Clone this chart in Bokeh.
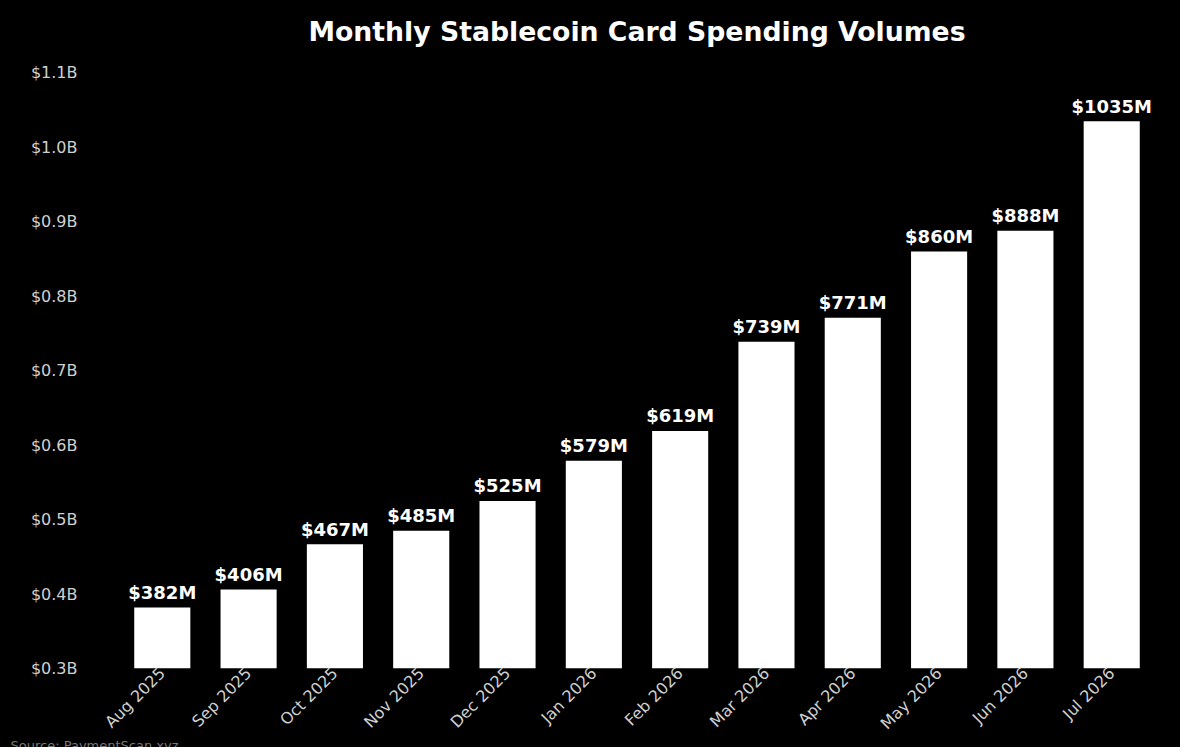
import math
from bokeh.plotting import figure
from bokeh.models import ColumnDataSource, FactorRange, Range1d, FixedTicker, Title
from bokeh.embed import file_html
from bokeh.resources import INLINE

months = ["Aug 2025", "Sep 2025", "Oct 2025", "Nov 2025", "Dec 2025", "Jan 2026",
          "Feb 2026", "Mar 2026", "Apr 2026", "May 2026", "Jun 2026", "Jul 2026"]
volumes_m = [382, 406, 467, 485, 525, 579, 619, 739, 771, 860, 888, 1035]
y_ticks_b = [0.3, 0.4, 0.5, 0.6, 0.7, 0.8, 0.9, 1.0, 1.1]

vol_b = [v / 1000 for v in volumes_m]
labels = ["$%dM" % v for v in volumes_m]
src = ColumnDataSource(dict(month=months, vol=vol_b, label=labels))

p = figure(width=1180, height=747, output_backend="svg", toolbar_location=None,
           x_range=FactorRange(factors=months, range_padding=0.1, range_padding_units="absolute"),
           y_range=Range1d(0.3, 1.13),
           min_border_left=110, min_border_right=17, min_border_top=50, min_border_bottom=79,
           background_fill_color="black", border_fill_color="black", outline_line_color=None)

p.vbar(x="month", top="vol", bottom=0.3, width=0.65, source=src,
       fill_color="white", line_color=None)
p.text(x="month", y="vol", text="label", source=src, text_align="center",
       text_baseline="alphabetic", y_offset=-15, text_color="white",
       text_font_size="18px", text_font_style="bold", text_font={"value": "DejaVu Sans"})

p.title.text = "Monthly Stablecoin Card Spending Volumes"
p.title.align = "center"
p.title.text_color = "white"
p.title.text_font = "DejaVu Sans"
p.title.text_font_size = "26.7px"
p.title.text_font_style = "bold"
p.title.standoff = 8

p.xgrid.visible = False
p.ygrid.visible = False

p.yaxis.ticker = FixedTicker(ticks=y_ticks_b)
p.yaxis.major_label_overrides = {t: "$%.1fB" % t for t in y_ticks_b}
p.yaxis.axis_line_color = None
p.yaxis.major_tick_line_color = None
p.yaxis.minor_tick_line_color = None
p.yaxis.major_tick_out = 0
p.yaxis.major_tick_in = 0
p.yaxis.major_label_standoff = 33
p.yaxis.major_label_text_color = "#d0d0d0"
p.yaxis.major_label_text_font = "DejaVu Sans"
p.yaxis.major_label_text_font_size = "16px"

p.xaxis.axis_line_color = None
p.xaxis.major_tick_line_color = None
p.xaxis.major_tick_out = 0
p.xaxis.major_tick_in = 0
p.xaxis.major_label_orientation = math.pi / 4
p.xaxis.major_label_standoff = 2
p.xaxis.major_label_text_color = "#d0d0d0"
p.xaxis.major_label_text_font = "DejaVu Sans"
p.xaxis.major_label_text_font_size = "16px"

source_note = Title(text="Source: PaymentScan.xyz", align="left", vertical_align="bottom",
                    standoff=-14, offset=-100, text_color="#777777", text_font="DejaVu Sans",
                    text_font_size="13px", text_font_style="normal")
p.add_layout(source_note, "below")

html = file_html(p, INLINE)
html = html.replace("<head>", "<head><style>html,body{background:#000;}</style>", 1)
open("out.html", "w").write(html)
